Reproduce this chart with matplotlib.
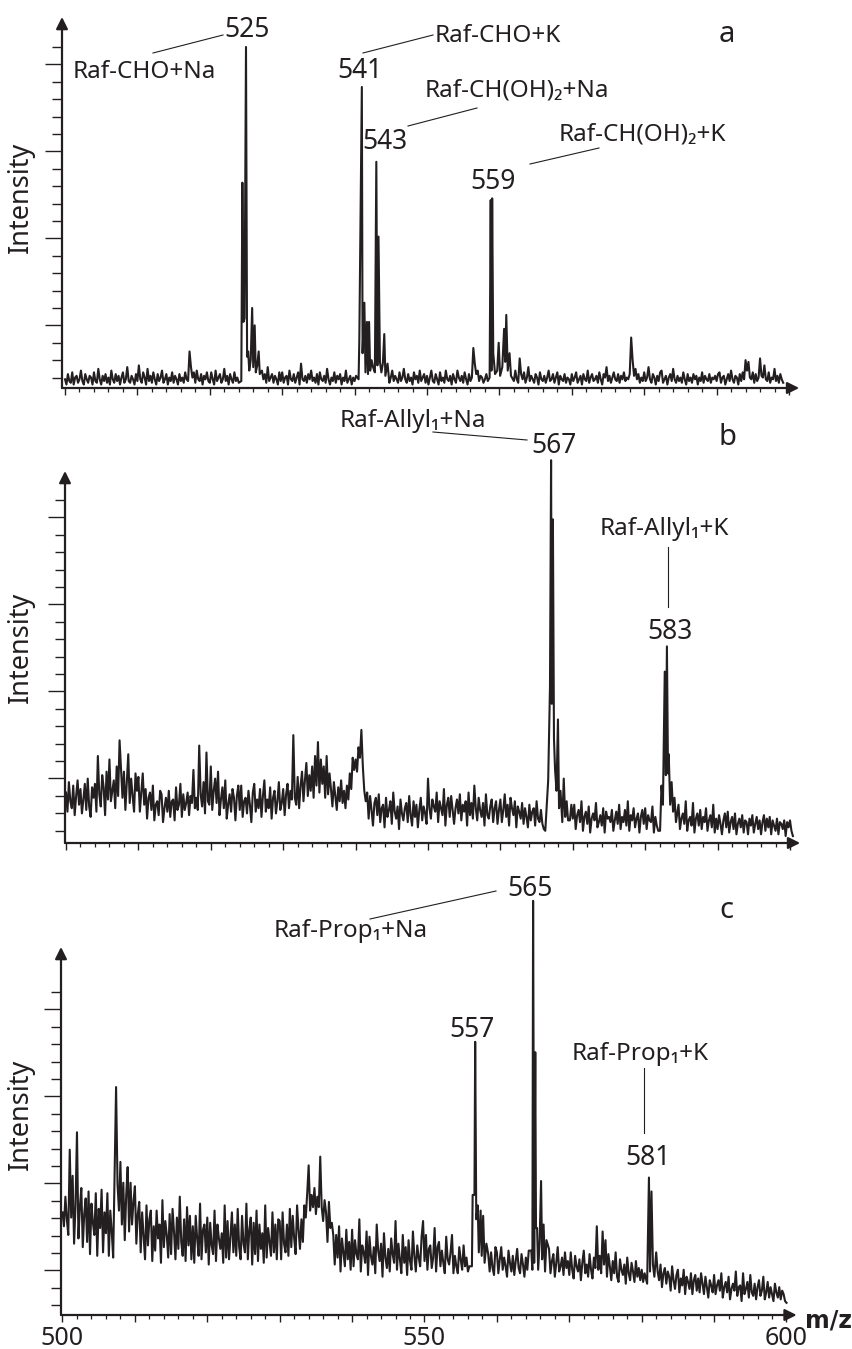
import numpy as np
import matplotlib.pyplot as plt
from matplotlib.lines import Line2D

plt.rcParams['font.family'] = ['Noto Sans', 'DejaVu Sans']

INK = '#231f20'
W, H = 853, 1349
STEP = 0.2          # m/z spacing of the baseline readings
TICK_PX = 17.4      # one intensity unit = one y tick interval

# ---- spectrum a : baseline readings from m/z 500, every 0.2 ----
a_base = [
    0.5, 0.2, 0.8, 0.4, 0.3, 0.9, 0.2, 0.6, 0.7, 0.3, 0.5, 1.0, 0.4, 0.2, 0.8, 0.5, 0.3, 0.7, 0.6, 0.2,
    0.9, 0.4, 0.3, 1.1, 0.5, 0.2, 0.7, 0.4, 0.8, 0.3, 0.6, 0.2, 1.0, 0.5, 0.3, 0.8, 0.4, 0.7, 0.2, 0.6,
    0.9, 0.3, 0.5, 1.2, 0.4, 0.3, 0.7, 0.5, 0.2, 0.8,
    0.4, 1.3, 0.5, 0.3, 0.9, 0.6, 0.2, 1.1, 0.4, 0.7, 0.3, 0.9, 0.5, 0.2, 0.8, 0.4, 0.6, 1.0, 0.3, 0.5,
    0.8, 0.2, 0.6, 0.4, 0.9, 0.3, 0.7, 0.5, 0.2, 0.8, 0.4, 0.6, 0.3, 0.9, 0.5, 0.4, 2.1, 1.2, 0.6, 0.9,
    0.3, 1.0, 0.5, 0.4, 0.8, 0.2, 0.7, 0.5, 0.9, 0.4,
    0.3, 0.9, 0.5, 0.2, 1.0, 0.4, 0.6, 0.8, 0.3, 0.5, 1.1, 0.4, 0.7, 0.2, 0.8, 0.5, 0.3, 0.9, 0.4, 0.6,
    0.3, 0.8, 0.5, 0.4, 0.6, 0.5, 0.7, 0.4, 0.6, 0.5, 0.8, 0.4, 0.6, 0.5, 0.7, 0.4, 1.0, 0.5, 0.8, 0.3,
    1.2, 0.4, 0.6, 0.8, 0.3, 0.7, 0.5, 0.2, 0.9, 0.4,
    0.9, 0.3, 0.6, 0.7, 0.2, 1.0, 0.5, 0.4, 0.8, 0.3, 0.6, 0.9, 0.2, 1.4, 0.5, 0.4, 0.7, 0.3, 0.8, 0.5,
    1.0, 0.4, 0.6, 0.3, 0.8, 0.2, 0.9, 0.5, 0.4, 0.7, 0.3, 1.1, 0.5, 0.2, 0.6, 0.4, 0.9, 0.3, 0.7, 0.5,
    0.8, 0.2, 0.6, 0.4, 1.0, 0.3, 0.5, 0.7, 0.2, 0.6,
    0.4, 0.7, 0.3, 0.6, 0.5, 0.7, 0.5, 0.6, 0.5, 0.7, 0.5, 0.6, 0.5, 0.7, 0.5, 0.6, 0.5, 0.7, 0.5, 0.6,
    0.5, 0.7, 0.5, 0.9, 0.3, 0.6, 1.0, 0.4, 0.7, 0.5, 0.3, 0.9, 0.4, 0.6, 1.1, 0.5, 0.3, 0.8, 0.4, 0.6,
    0.2, 0.9, 0.5, 0.7, 0.3, 1.0, 0.4, 0.6, 0.8, 0.3,
    0.7, 0.2, 0.6, 1.0, 0.4, 0.3, 0.8, 0.5, 0.2, 0.9, 0.4, 0.6, 0.3, 1.0, 0.5, 0.4, 0.7, 0.2, 0.8, 0.5,
    0.3, 1.0, 0.6, 0.4, 0.7, 0.3, 0.9, 0.5, 0.2, 0.8, 0.4, 0.6, 2.3, 1.4, 0.8, 1.0, 0.4, 0.7, 0.6, 0.3,
    0.5, 0.8, 0.4, 0.6, 0.5, 0.7, 0.5, 0.6, 0.5, 0.7,
    0.6, 0.5, 0.7, 0.5, 0.6, 0.5, 0.7, 0.5, 0.6, 0.9, 0.4, 1.0, 0.5, 0.3, 1.7, 0.8, 0.5, 0.9, 0.3, 0.6,
    1.2, 0.4, 0.7, 0.5, 0.3, 0.8, 0.6, 0.2, 0.9, 0.5, 0.4, 0.7, 0.3, 0.6, 1.0, 0.4, 0.5, 0.8, 0.3, 0.6,
    0.9, 0.2, 0.7, 0.5, 0.4, 0.8, 0.3, 0.6, 0.5, 0.2,
    0.8, 0.4, 0.6, 0.9, 0.3, 0.5, 0.7, 0.2, 0.8, 0.5, 0.4, 1.0, 0.3, 0.6, 0.8, 0.4, 0.5, 0.7, 0.3, 0.9,
    0.5, 0.2, 0.8, 0.6, 1.2, 0.4, 0.7, 0.3, 0.6, 0.9, 0.5, 0.4, 0.8, 0.3, 0.7, 0.5, 0.9, 0.4, 0.6, 0.5,
    0.8, 2.9, 1.6, 0.7, 1.1, 0.5, 0.8, 0.3, 0.6, 0.4,
    0.9, 0.4, 0.6, 1.2, 0.5, 0.3, 0.8, 0.6, 0.2, 0.7, 0.4, 0.9, 1.0, 0.3, 0.5, 0.7, 0.2, 0.6, 0.8, 0.4,
    1.1, 0.5, 0.3, 0.7, 0.4, 0.6, 0.3, 0.9, 0.5, 0.2, 0.8, 0.4, 0.6, 0.3, 0.8, 0.5, 0.7, 0.2, 0.6, 0.4,
    0.9, 0.3, 0.7, 0.5, 0.4, 0.8, 0.3, 0.6, 0.5, 0.7,
    0.4, 0.8, 0.9, 0.3, 0.6, 0.7, 0.2, 0.5, 0.8, 0.4, 1.0, 0.5, 0.3, 0.7, 0.6, 0.2, 0.8, 0.4, 0.9, 0.5,
    1.6, 1.0, 1.5, 0.6, 0.5, 0.9, 0.3, 0.8, 0.4, 0.6, 1.7, 0.7, 0.6, 1.3, 0.5, 0.4, 0.9, 0.3, 0.6, 0.5,
    1.1, 0.4, 0.7, 0.3, 0.8, 0.5, 0.3,
]
# peak clusters (m/z, intensity)
a_peak_mz = [524.35, 524.5, 524.65, 524.8, 525.0, 525.15, 525.3, 525.45, 525.65, 525.85, 526.0, 526.2, 526.35, 526.55, 526.75, 526.9,
             540.55, 540.65, 541.0, 541.1, 541.35, 541.5, 541.7, 541.85, 542.0, 542.15, 542.35, 542.55, 542.8,
             543.0, 543.15, 543.3, 543.5, 543.7, 543.9, 544.1, 544.25, 544.55,
             558.65, 558.8, 558.9, 559.0, 559.15, 559.4, 559.7, 559.9, 560.1, 560.4, 560.65, 560.8, 560.95, 561.15, 561.4, 561.6]
a_peak_int = [0.4, 11.8, 3.8, 4.0, 19.6, 1.8, 2.1, 1.0, 1.6, 4.6, 1.2, 3.6, 0.9, 1.3, 2.1, 0.8,
              0.5, 2.7, 17.3, 2.0, 4.9, 0.9, 3.8, 0.8, 3.8, 1.0, 1.6, 1.2, 0.9,
              13.0, 1.3, 8.7, 1.5, 0.9, 1.4, 3.1, 0.7, 1.4,
              0.6, 10.8, 1.0, 10.9, 2.0, 0.8, 1.0, 2.6, 0.7, 1.2, 3.4, 1.5, 4.2, 1.0, 2.0, 0.7]

# ---- spectrum b ----
b_base = [
    2.9, 1.8, 3.5, 2.4, 2.0, 3.3, 1.6, 2.7, 3.6, 2.2, 3.1, 1.7, 2.5, 3.4, 1.9, 3.7, 2.1, 1.5, 3.2, 2.6,
    3.4, 1.8, 5.0, 2.8, 2.1, 3.9, 3.2, 1.6, 4.1, 2.5, 4.8, 2.4, 3.0, 3.6, 2.0, 4.4, 2.7, 5.9, 4.2, 2.6,
    4.1, 1.9, 3.5, 5.1, 2.3, 3.7, 2.7, 1.8, 4.0, 3.0,
    3.8, 1.8, 2.9, 4.0, 2.2, 3.1, 1.4, 2.6, 2.9, 1.9, 3.3, 1.3, 2.2, 2.4, 1.6, 3.0, 2.8, 1.2, 2.0, 2.6,
    1.8, 3.0, 1.5, 2.4, 2.5, 1.3, 3.2, 1.9, 2.2, 3.4, 1.5, 2.8, 1.9, 2.3, 2.9, 1.6, 2.7, 2.3, 4.2, 2.0,
    2.6, 1.9, 5.6, 2.8, 2.1, 3.5, 1.7, 5.2, 2.4, 2.2,
    4.4, 1.9, 3.0, 3.7, 2.3, 4.1, 1.6, 2.5, 3.2, 2.0, 3.6, 1.4, 2.2, 2.8, 1.8, 3.1, 2.6, 1.3, 2.7, 3.3,
    1.9, 3.3, 1.5, 2.4, 2.6, 1.7, 3.0, 2.2, 1.2, 2.9, 3.4, 1.8, 2.5, 2.0, 3.1, 1.5, 2.7, 3.6, 1.8, 2.5,
    2.0, 3.2, 1.4, 2.6, 3.0, 1.7, 2.4, 3.5, 1.9, 2.3,
    3.1, 1.6, 2.8, 3.4, 2.0, 3.0, 2.5, 6.2, 2.6, 2.2, 3.8, 2.0, 3.3, 4.1, 2.4, 3.6, 4.6, 2.7, 3.9, 3.0,
    4.4, 2.6, 5.0, 3.3, 5.8, 2.9, 4.8, 3.4, 4.4, 2.6, 5.0, 2.8, 4.0, 3.1, 2.1, 3.5, 2.7, 1.9, 3.2, 2.4,
    3.6, 2.3, 3.0, 2.0, 3.3, 2.5, 4.0, 3.1, 4.9, 4.2,
    4.8, 4.1, 5.5, 4.9, 6.5, 4.4, 3.0, 2.4, 2.9, 1.4, 2.7, 1.9, 1.0, 2.3, 2.6, 1.6, 2.8, 1.2, 2.0, 2.2,
    0.9, 2.6, 1.5, 1.9, 2.4, 1.1, 2.9, 1.8, 1.4, 2.1, 0.8, 2.5, 1.7, 1.3, 2.0, 2.3, 1.2, 2.7, 1.6, 1.0,
    2.4, 1.5, 2.2, 0.9, 1.9, 2.6, 1.3, 2.1, 1.7, 1.1,
    3.7, 2.0, 1.4, 2.5, 2.1, 1.8, 2.9, 1.2, 2.4, 2.0, 1.6, 3.1, 1.0, 2.2, 2.6, 1.5, 2.7, 1.9, 1.1, 2.0,
    2.5, 1.7, 2.8, 1.3, 2.2, 1.8, 2.4, 1.0, 2.9, 1.6, 2.3, 1.4, 3.3, 2.0, 1.3, 2.6, 1.9, 1.5, 2.3, 1.0,
    2.8, 1.6, 1.4, 2.1, 2.5, 1.2, 2.0, 2.4, 1.1, 1.9,
    2.5, 1.2, 1.9, 2.8, 1.5, 2.2, 1.0, 2.6, 2.0, 1.6, 2.4, 0.9, 2.1, 1.8, 1.4, 2.3, 1.1, 2.0, 1.5, 0.9,
    2.2, 1.3, 1.8, 2.0, 1.0, 2.4, 1.4, 1.2, 1.9, 1.1, 0.8, 1.5, 2.0, 2.5, 3.0, 3.5, 3.0, 2.5, 2.0, 1.5,
    1.5, 1.8, 1.9, 1.7, 1.6, 1.5, 1.6, 1.4, 1.3, 2.2,
    1.4, 2.2, 0.8, 1.6, 1.9, 1.2, 2.4, 0.7, 1.5, 1.8, 1.1, 2.1, 0.6, 1.4, 1.7, 1.3, 2.3, 0.9, 1.2, 1.6,
    1.0, 2.0, 0.6, 1.8, 1.4, 1.5, 1.2, 1.9, 0.7, 1.3, 1.8, 1.1, 2.2, 0.8, 1.5, 1.2, 1.9, 1.0, 2.4, 0.7,
    1.6, 1.3, 2.0, 0.9, 1.4, 1.7, 0.6, 1.5, 1.9, 1.1,
    2.0, 0.8, 1.6, 1.3, 1.2, 2.1, 0.6, 1.5, 1.0, 0.7, 1.0, 1.5, 2.0, 2.5, 3.0, 3.5, 3.0, 2.5, 2.0, 1.5,
    1.2, 1.0, 1.3, 2.2, 0.8, 1.4, 1.7, 1.1, 2.4, 0.7, 1.3, 1.5, 1.0, 2.3, 0.6, 1.4, 1.7, 1.0, 1.9, 0.8,
    1.5, 1.2, 2.0, 0.7, 1.3, 1.6, 0.9, 2.2, 0.6, 1.4,
    0.8, 1.6, 1.1, 0.5, 1.3, 1.7, 0.9, 1.8, 0.6, 1.2, 1.5, 0.8, 1.7, 0.5, 1.1, 1.4, 0.9, 1.6, 0.6, 1.3,
    1.2, 0.5, 1.4, 1.0, 1.6, 0.6, 1.1, 1.5, 0.8, 1.3, 0.5, 1.2, 1.6, 0.7, 1.4, 0.9, 1.5, 0.5, 1.3, 1.0,
    0.7, 1.4, 0.5, 1.2, 1.1, 0.8, 1.3, 0.4, 1.2, 0.9, 1.3, 0.7, 0.4,
]
b_peak_mz = [566.2, 566.45, 566.6, 566.85, 567.0, 567.1, 567.25, 567.4, 567.55, 567.75, 567.95, 568.1, 568.3, 568.55,
             568.75, 568.95, 569.15, 569.35,
             582.05, 582.25, 582.45, 582.7, 582.85, 583.0, 583.15, 583.25, 583.45, 583.65, 583.85, 584.05, 584.25]
b_peak_int = [0.7, 2.5, 3.6, 9.0, 22.0, 8.0, 18.6, 6.0, 4.2, 3.0, 7.1, 2.0, 3.0, 1.2,
              3.7, 1.5, 2.4, 1.3,
              0.7, 3.3, 2.2, 9.85, 3.9, 11.3, 4.0, 5.1, 2.2, 3.5, 1.8, 2.6, 1.2]

# ---- spectrum c ----
c_base = [
    5.9, 5.1, 6.8, 5.5, 4.6, 9.5, 5.6, 8.0, 4.1, 6.3, 10.5, 4.4, 6.2, 7.3, 3.9, 5.8, 6.7, 4.2, 7.1, 3.5,
    6.4, 5.3, 4.6, 7.0, 3.4, 6.1, 5.0, 7.2, 3.6, 5.9, 4.7, 7.0, 3.4, 6.0, 4.8, 3.3, 8.3, 13.1, 7.5, 6.0,
    8.8, 5.2, 7.6, 4.3, 6.9, 8.5, 4.8, 7.6, 5.2, 6.5,
    7.4, 4.1, 5.8, 6.5, 3.6, 5.9, 4.5, 3.2, 6.3, 4.0, 5.5, 6.0, 3.1, 5.1, 3.7, 6.0, 4.4, 5.2, 3.0, 6.6,
    3.9, 5.4, 4.6, 3.3, 5.8, 3.5, 6.1, 4.8, 3.2, 5.6, 3.8, 6.8, 4.2, 3.4, 5.5, 3.1, 6.2, 4.0, 5.7, 3.2,
    5.1, 3.0, 5.7, 4.4, 3.4, 6.4, 3.2, 4.9, 5.2, 3.6,
    5.6, 2.9, 5.3, 4.0, 3.5, 6.0, 3.1, 5.2, 4.4, 3.8, 4.7, 3.0, 6.3, 3.3, 5.4, 3.2, 4.5, 5.9, 3.6, 5.2,
    3.4, 6.1, 3.9, 3.2, 5.7, 4.1, 3.6, 6.4, 3.2, 4.9, 5.6, 2.9, 5.3, 3.5, 6.0, 3.1, 5.2, 3.8, 4.7, 3.0,
    6.3, 3.3, 5.0, 4.2, 3.4, 5.9, 3.6, 5.2, 3.2, 5.5,
    5.4, 3.2, 5.9, 4.1, 3.6, 5.2, 3.4, 6.1, 3.9, 5.7, 4.4, 3.5, 6.3, 4.9, 3.8, 5.5, 4.2, 6.3, 5.6, 7.0,
    8.6, 6.0, 6.9, 6.2, 7.3, 5.8, 6.8, 6.2, 9.1, 6.2, 5.4, 6.6, 5.9, 4.2, 6.5, 5.0, 5.3, 4.6, 2.9, 4.6,
    3.3, 5.1, 2.5, 4.4, 3.6, 2.8, 4.9, 3.2, 4.2, 2.6,
    4.9, 2.8, 4.3, 3.5, 3.2, 5.5, 2.5, 4.0, 3.6, 3.0, 4.8, 2.3, 4.5, 3.4, 2.9, 3.9, 2.4, 5.2, 3.7, 3.1,
    4.1, 2.2, 4.7, 3.3, 2.7, 3.8, 2.5, 4.4, 3.5, 3.0, 5.4, 2.6, 4.1, 3.2, 2.4, 4.6, 3.0, 3.9, 2.3, 4.3,
    3.1, 2.6, 4.8, 3.4, 2.5, 4.0, 3.3, 2.8, 4.5, 5.4,
    3.1, 4.6, 2.6, 3.8, 4.0, 2.7, 3.3, 5.0, 2.5, 3.9, 4.2, 2.8, 3.7, 3.0, 2.4, 4.5, 3.2, 2.9, 3.6, 4.6,
    2.4, 3.4, 2.8, 2.4, 3.9, 3.2, 2.6, 4.0, 2.8, 3.3, 2.5, 2.8, 4.0, 5.0, 6.0, 5.0, 4.0, 5.0, 4.0, 5.0,
    4.0, 4.0, 4.0, 4.0, 3.5, 2.5, 3.6, 2.7, 2.3, 3.9,
    3.6, 2.4, 3.2, 3.9, 2.6, 3.3, 2.8, 2.2, 3.7, 3.0, 2.5, 3.4, 2.3, 3.1, 3.8, 2.7, 2.4, 3.5, 2.9, 2.2,
    3.3, 2.6, 3.7, 3.0, 3.0, 3.0, 3.0, 3.0, 3.0, 3.0, 3.0, 3.0, 3.0, 3.0, 3.0, 3.0, 3.8, 2.4, 3.1, 3.5,
    2.2, 3.0, 3.9, 2.5, 2.8, 3.3, 2.3, 3.6, 2.7, 3.1,
    2.3, 3.6, 2.6, 2.1, 3.4, 2.8, 2.5, 3.2, 2.0, 3.0, 3.7, 2.4, 2.9, 2.2, 3.5, 2.6, 2.1, 3.3, 2.7, 5.1,
    2.6, 3.4, 2.4, 4.8, 2.9, 4.3, 2.2, 3.5, 2.8, 2.0, 3.1, 2.4, 3.6, 2.2, 1.9, 3.2, 2.6, 2.3, 2.9, 1.8,
    3.3, 2.4, 2.0, 3.0, 2.5, 1.9, 3.1, 2.2, 2.7, 2.0,
    2.6, 1.9, 2.4, 2.0, 2.0, 2.0, 2.0, 2.0, 2.0, 2.0, 3.6, 2.5, 2.0, 2.9, 1.6, 2.4, 2.7, 1.8, 2.5, 2.2,
    1.4, 2.8, 2.0, 1.5, 2.3, 2.6, 1.3, 2.1, 1.7, 2.6, 1.2, 2.2, 1.9, 1.5, 2.4, 1.2, 2.0, 2.3, 1.4, 2.1,
    1.3, 2.4, 1.8, 1.2, 2.2, 1.6, 1.0, 2.0, 1.7, 1.3,
    2.3, 1.2, 1.7, 2.0, 1.4, 2.4, 1.0, 1.6, 1.9, 1.3, 2.2, 0.9, 1.5, 1.8, 1.4, 2.5, 1.1, 1.6, 1.7, 0.8,
    2.4, 1.2, 1.5, 1.9, 1.0, 2.3, 1.3, 1.1, 1.8, 0.9, 1.6, 2.0, 1.1, 1.4, 2.2, 0.9, 1.3, 1.9, 1.0, 1.6,
    1.2, 0.8, 1.8, 1.3, 1.0, 1.6, 0.9, 1.4, 1.2, 0.8, 0.7,
]
c_peak_mz = [556.55, 556.65, 556.9, 557.0, 557.15, 557.35, 557.5, 557.75, 557.9, 558.1, 558.3, 558.55,
             564.75, 564.9, 565.0, 565.15, 565.3, 565.4, 565.55, 565.7, 565.9, 566.1, 566.25, 566.45, 566.65, 566.85,
             580.75, 581.0, 581.15, 581.35, 581.55, 581.75]
c_peak_int = [2.8, 6.9, 6.9, 15.7, 5.5, 6.3, 3.6, 6.0, 3.4, 5.7, 3.0, 4.1,
              3.7, 2.6, 23.8, 3.0, 15.1, 5.0, 5.0, 2.6, 4.2, 7.7, 3.2, 5.2, 2.5, 4.3,
              1.8, 7.9, 2.5, 7.1, 2.9, 2.2]

# ---- labels: (text, left px, baseline px, size) ----
a_texts = [('525', 224, 37, 19), ('Raf-CHO+Na', 73, 78, 17.5), ('541', 337, 78, 19),
           ('Raf-CHO+K', 435, 42, 17.5), ('Raf-CH(OH)\u2082+Na', 425, 97, 17.5), ('543', 362, 149, 19),
           ('Raf-CH(OH)\u2082+K', 559, 140, 17.5), ('559', 470, 189, 19), ('a', 719, 42, 21)]
b_texts = [('Raf-Allyl\u2081+Na', 340, 427, 17.5), ('567', 531, 453, 19), ('b', 719, 445, 21),
           ('Raf-Allyl\u2081+K', 600, 535, 17.5), ('583', 647, 639, 19)]
c_texts = [('Raf-Prop\u2081+Na', 274, 937, 17.5), ('565', 507, 896, 19), ('c', 719, 918, 21),
           ('557', 449, 1037, 19), ('Raf-Prop\u2081+K', 572, 1060, 17.5), ('581', 625, 1165, 19)]
leaders = [((153, 53), (223, 35)), ((363, 53), (433, 35)), ((408, 126), (477, 108)), ((530, 164), (599, 148)),
           ((433, 432), (527, 440)), ((668, 547), (668, 607)),
           ((370, 919), (496, 891)), ((644, 1068), (644, 1133))]

# panel frames in pixels: y-axis x, x of m/z 500, arrow top, x-axis y, top tick y, n ticks, intensity label y
panels = [
    dict(base=a_base, pmz=a_peak_mz, pint=a_peak_int, ax_x=62, x500=65, top=17, bottom=388, ttop=47, nt=20, lab=197),
    dict(base=b_base, pmz=b_peak_mz, pint=b_peak_int, ax_x=65, x500=66, top=471, bottom=843, ttop=500, nt=20, lab=647),
    dict(base=c_base, pmz=c_peak_mz, pint=c_peak_int, ax_x=61, x500=62.5, top=947, bottom=1315, ttop=992, nt=19, lab=1114),
]
PX_PER_MZ = 7.24

fig = plt.figure(figsize=(W / 100, H / 100), dpi=100)


def spectrum(base, pmz, pint):
    bmz = 500 + STEP * np.arange(len(base))
    base = np.array(base)
    pmz, pint = np.array(pmz), np.array(pint)
    keep = np.min(np.abs(bmz[:, None] - pmz[None, :]), axis=1) > 0.2
    mz = np.concatenate([bmz[keep], pmz])
    inten = np.concatenate([base[keep], pint])
    order = np.argsort(mz)
    return mz[order], inten[order]


for i, p in enumerate(panels):
    right = p['x500'] + 101.4 * PX_PER_MZ
    ax = fig.add_axes([p['ax_x'] / W, 1 - p['bottom'] / H,
                       (right - p['ax_x']) / W, (p['bottom'] - p['top']) / H])
    ytop = (p['bottom'] - p['top']) / TICK_PX
    ax.set_xlim(500 - (p['x500'] - p['ax_x']) / PX_PER_MZ, 601.4)
    ax.set_ylim(0, ytop)

    mz, inten = spectrum(p['base'], p['pmz'], p['pint'])
    ax.plot(mz, inten, color=INK, lw=1.5, clip_on=False)

    for s in ax.spines.values():
        s.set_visible(False)
    arrow = dict(arrowstyle='-|>,head_length=0.5,head_width=0.25', color=INK, lw=1.6,
                 shrinkA=0, shrinkB=0, mutation_scale=14)
    ax.annotate('', xy=(1, 0), xytext=(0, 0), xycoords='axes fraction', arrowprops=arrow, annotation_clip=False)
    ax.annotate('', xy=(0, 1), xytext=(0, 0), xycoords='axes fraction', arrowprops=arrow, annotation_clip=False)

    # y ticks: one unit apart, every fifth one longer
    top_u = (p['bottom'] - p['ttop']) / TICK_PX
    yt = [top_u - k for k in range(p['nt'])]
    ax.set_yticks([yt[k] for k in (1, 6, 11, 16)])
    ax.set_yticks([y for k, y in enumerate(yt) if k not in (1, 6, 11, 16)], minor=True)
    ax.tick_params(axis='y', which='major', length=12.5, width=1, color=INK, labelleft=False)
    ax.tick_params(axis='y', which='minor', length=7, width=1, color=INK)

    ax.set_xticks(np.arange(500, 601, 10))
    ax.set_xticks(np.arange(502, 600, 2), minor=True)
    ax.tick_params(axis='x', which='major', length=5, width=1, color=INK)
    ax.tick_params(axis='x', which='minor', length=3, width=0.9, color=INK)
    if i == 2:
        ax.set_xticklabels(['500', '', '', '', '', '550', '', '', '', '', '600'])
        ax.tick_params(axis='x', labelsize=18, pad=3, labelcolor=INK)
    else:
        ax.tick_params(axis='x', labelbottom=False)

    fig.text(21 / W, 1 - p['lab'] / H, 'Intensity', rotation=90, ha='center', va='center',
             fontsize=19.5, color=INK)

for s, x, y, size in a_texts + b_texts + c_texts:
    fig.text(x / W, 1 - y / H, s, ha='left', va='baseline', fontsize=size, color=INK)

for (x1, y1), (x2, y2) in leaders:
    fig.add_artist(Line2D([x1 / W, x2 / W], [1 - y1 / H, 1 - y2 / H], lw=0.8, color=INK))

fig.text(805 / W, 1 - 1328 / H, 'm/z', ha='left', va='baseline', fontsize=17, fontweight='bold',
         family='DejaVu Sans', color=INK)

fig.savefig('out.png', dpi=100)
